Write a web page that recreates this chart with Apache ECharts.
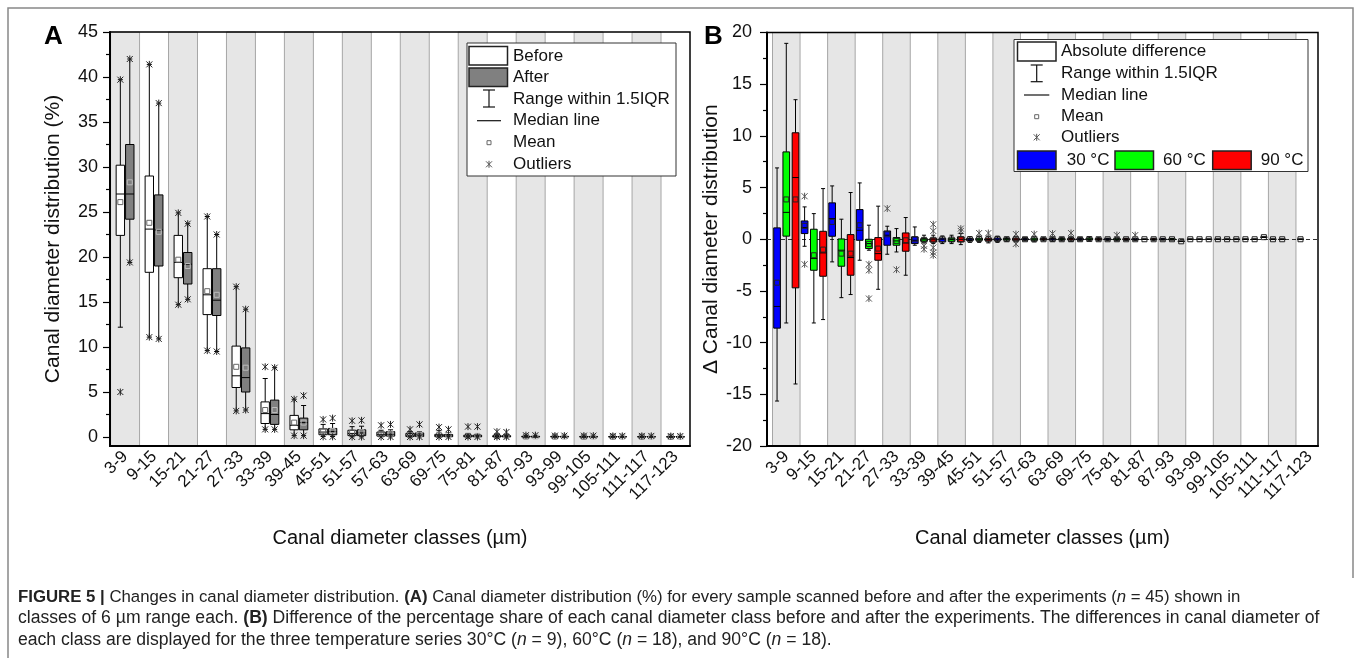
<!DOCTYPE html>
<html lang="en">
<head>
<meta charset="UTF-8">
<title>Figure 5</title>
<style>
    html, body { margin: 0; padding: 0; background: #fff; }
    #main { width: 1355px; height: 658px; }
</style>
</head>
<body>
<div id="main"></div>
<script src="https://cdn.jsdelivr.net/npm/echarts@6.0.0/dist/echarts.min.js"></script>
<script>
// canal diameter classes (µm)
var classes = ['3-9', '9-15', '15-21', '21-27', '27-33', '33-39', '39-45', '45-51', '51-57', '57-63',
    '63-69', '69-75', '75-81', '81-87', '87-93', '93-99', '99-105', '105-111', '111-117', '117-123'];
var classIdx = [0, 1, 2, 3, 4, 5, 6, 7, 8, 9, 10, 11, 12, 13, 14, 15, 16, 17, 18, 19];

var yTicksA = [0, 5, 10, 15, 20, 25, 30, 35, 40, 45];
var yMinorA = [2.5, 7.5, 12.5, 17.5, 22.5, 27.5, 32.5, 37.5, 42.5];

// panel A, one row per class: [lower whisker, Q1, median, Q3, upper whisker, mean]
var beforeA = [
    [12.2, 22.4, 27.0, 30.2, 39.7, 26.1],
    [11.1, 18.3, 23.1, 29.0, 41.4, 23.8],
    [14.7, 17.7, 19.4, 22.4, 24.9, 19.7],
    [9.6, 13.6, 15.8, 18.7, 24.5, 16.2],
    [2.9, 5.5, 6.8, 10.1, 16.7, 7.8],
    [0.85, 1.5, 2.6, 3.9, 6.5, 3.0],
    [0.15, 0.8, 1.3, 2.4, 4.2, 1.6],
    [0.05, 0.25, 0.55, 0.9, 1.4, 0.62],
    [0.02, 0.15, 0.4, 0.75, 1.15, 0.5],
    [0.02, 0.1, 0.3, 0.55, 0.75, 0.35],
    [0, 0.05, 0.2, 0.4, 0.6, 0.25],
    [0, 0.03, 0.15, 0.3, 0.7, 0.2],
    [0, 0.02, 0.1, 0.2, 0.35, 0.13],
    [0, 0.01, 0.06, 0.15, 0.25, 0.1],
    [0, 0.01, 0.03, 0.08, 0.15, 0.06],
    [0, 0.01, 0.03, 0.07, 0.12, 0.05],
    [0, 0, 0.02, 0.06, 0.12, 0.04],
    [0, 0, 0.02, 0.05, 0.1, 0.04],
    [0, 0, 0.02, 0.05, 0.1, 0.04],
    [0, 0, 0.01, 0.04, 0.08, 0.03]
];
var afterA = [
    [19.4, 24.2, 27.0, 32.5, 42.0, 28.3],
    [10.9, 19.0, 23.0, 26.9, 37.1, 22.8],
    [15.3, 17.0, 19.2, 20.5, 23.7, 19.0],
    [9.5, 13.5, 15.2, 18.7, 22.5, 15.8],
    [3.0, 5.0, 6.6, 9.9, 14.2, 7.7],
    [0.85, 1.4, 2.5, 4.1, 7.7, 3.0],
    [0.15, 0.8, 1.6, 2.1, 3.5, 1.6],
    [0.05, 0.25, 0.6, 0.95, 1.5, 0.68],
    [0.02, 0.15, 0.45, 0.8, 1.2, 0.52],
    [0.02, 0.1, 0.3, 0.6, 0.8, 0.38],
    [0, 0.05, 0.2, 0.45, 0.6, 0.27],
    [0, 0.03, 0.12, 0.28, 0.5, 0.18],
    [0, 0.02, 0.1, 0.2, 0.35, 0.13],
    [0, 0.01, 0.06, 0.15, 0.25, 0.1],
    [0, 0.01, 0.03, 0.08, 0.15, 0.06],
    [0, 0.01, 0.03, 0.07, 0.12, 0.05],
    [0, 0, 0.02, 0.06, 0.12, 0.04],
    [0, 0, 0.02, 0.05, 0.1, 0.04],
    [0, 0, 0.02, 0.05, 0.1, 0.04],
    [0, 0, 0.01, 0.04, 0.08, 0.03]
];
// outliers: [class index, value]
var beforeOutA = [[0, 39.7], [0, 5.0], [1, 41.4], [1, 11.1], [2, 24.9], [2, 14.7], [3, 24.5], [3, 9.6],
    [4, 16.7], [4, 2.9], [5, 7.8], [5, 0.85], [6, 4.2], [6, 0.15], [7, 1.95], [7, 0.02], [8, 1.8], [8, 0],
    [9, 1.3], [9, 0], [10, 0.85], [10, 0], [11, 1.1], [11, 0], [12, 1.15], [12, 0], [13, 0.6], [13, 0],
    [14, 0.2], [15, 0.15], [16, 0.15], [17, 0.12], [18, 0.12], [19, 0.1]];
var afterOutA = [[0, 42.0], [0, 19.4], [1, 37.1], [1, 10.9], [2, 23.7], [2, 15.3], [3, 22.5], [3, 9.5],
    [4, 14.2], [4, 3.0], [5, 7.7], [5, 0.85], [6, 4.6], [6, 0.15], [7, 2.1], [7, 0.02], [8, 1.85], [8, 0],
    [9, 1.4], [9, 0], [10, 1.4], [10, 0], [11, 0.85], [11, 0], [12, 1.15], [12, 0], [13, 0.55], [13, 0],
    [14, 0.2], [15, 0.15], [16, 0.15], [17, 0.12], [18, 0.12], [19, 0.1]];

// panel B, difference after - before per class: [lower whisker, Q1, median, Q3, upper whisker, mean]
var diff30 = [
    [-15.65, -8.6, -6.5, 1.1, 6.9, -4.2],
    [-0.68, 0.55, 1.13, 1.77, 3.13, 1.3],
    [-2.19, 0.29, 2.0, 3.52, 5.16, 1.68],
    [-2.03, -0.1, 0.87, 2.87, 5.45, 1.35],
    [-1.45, -0.58, 0.39, 0.8, 1.26, 0.48],
    [-0.58, -0.42, -0.1, 0.23, 1.19, 0.0],
    [-0.42, -0.26, 0, 0.1, 0.32, 0.0],
    [-0.3, -0.12, 0, 0.08, 0.25, 0],
    [-0.3, -0.1, 0, 0.12, 0.3, 0.02],
    [-0.15, -0.06, 0, 0.06, 0.15, 0],
    [-0.2, -0.08, 0, 0.08, 0.2, 0],
    [-0.15, -0.06, 0, 0.06, 0.15, 0],
    [-0.1, -0.05, 0, 0.05, 0.1, 0],
    [-0.1, -0.05, 0, 0.05, 0.1, 0],
    [-0.08, -0.04, 0, 0.04, 0.08, 0],
    [0, 0, 0, 0, 0, 0],
    [0, 0, 0, 0, 0, 0],
    [0, 0, 0, 0, 0, 0],
    [0, 0, 0, 0, 0, 0],
    [0, 0, 0, 0, 0, 0]
];
var diff60 = [
    [-8.1, 0.3, 2.6, 8.45, 18.95, 3.85],
    [-8.1, -3.0, -1.87, 0.97, 2.48, -1.55],
    [-5.65, -2.61, -1.06, 0.03, 1.94, -1.39],
    [-1.06, -0.9, -0.42, 0.0, 1.36, -0.45],
    [-1.23, -0.58, -0.16, 0.16, 1.03, -0.16],
    [-0.36, -0.2, -0.06, 0.06, 0.39, -0.06],
    [-0.42, -0.2, -0.03, 0.1, 0.39, -0.03],
    [-0.3, -0.1, 0, 0.1, 0.3, 0.02],
    [-0.2, -0.08, 0, 0.08, 0.2, 0],
    [-0.25, -0.1, 0, 0.1, 0.25, 0],
    [-0.15, -0.06, 0, 0.06, 0.15, 0],
    [-0.1, -0.05, 0, 0.1, 0.2, 0.02],
    [-0.15, -0.06, 0, 0.06, 0.15, 0],
    [0, 0, 0, 0, 0, 0],
    [-0.08, -0.04, 0, 0.04, 0.08, 0],
    [0, 0, 0, 0, 0, 0],
    [0, 0, 0, 0, 0, 0],
    [0, 0, 0, 0, 0, 0],
    [0, 0, 0, 0, 0, 0],
    null
];
var diff90 = [
    [-14.0, -4.7, 5.97, 10.3, 13.5, 3.85],
    [-7.77, -3.58, -1.32, 0.77, 4.9, -1.0],
    [-5.35, -3.48, -1.77, 0.45, 4.52, -1.39],
    [-4.84, -2.03, -1.39, 0.16, 3.2, -0.9],
    [-3.48, -1.16, -0.36, 0.61, 2.1, -0.1],
    [-0.42, -0.26, -0.05, 0.1, 0.39, -0.05],
    [-0.52, -0.26, 0, 0.23, 0.55, 0.0],
    [-0.35, -0.15, -0.02, 0.1, 0.3, 0],
    [-0.25, -0.1, 0, 0.1, 0.25, 0],
    [-0.15, -0.06, 0, 0.06, 0.15, 0],
    [-0.2, -0.08, 0, 0.08, 0.2, 0],
    [-0.15, -0.06, 0, 0.06, 0.15, 0],
    [-0.1, -0.05, 0, 0.05, 0.1, 0],
    [-0.1, -0.04, 0, 0.04, 0.1, 0],
    [-0.2, -0.2, -0.2, -0.2, -0.2, -0.2],
    [0, 0, 0, 0, 0, 0],
    [0, 0, 0, 0, 0, 0],
    [0.2, 0.2, 0.2, 0.2, 0.2, 0.2],
    null,
    null
];
var out30 = [[1, 4.16], [1, -2.42], [4, 2.97], [10, 0.55], [13, 0.4]];
var out60 = [[3, -2.42], [3, -3.0], [3, -5.74], [4, -2.94], [5, -0.64], [5, -0.97], [7, 0.6], [9, 0.5], [12, 0.4]];
var out90 = [[5, 1.45], [5, 0.8], [5, -0.81], [5, -1.29], [5, -1.55], [6, 1.03], [6, 0.8], [7, 0.6],
    [8, 0.5], [8, -0.45], [10, 0.6]];

var FONT = 'Liberation Sans, Arial, sans-serif';

function toItems(stats) {
    var items = [];
    for (var i = 0; i < stats.length; i++) {
        if (stats[i]) items.push([i].concat(stats[i]));
    }
    return items;
}

// box + whiskers + median + mean, placed at a fraction of the class width
function boxRenderer(offset, widthFrac, fill, meanColor) {
    return function (params, api) {
        var i = api.value(0);
        var band = api.size([1, 0])[0];
        var cx = api.coord([i, 0])[0] + offset * band;
        var w = widthFrac * band;
        var cap = w * 0.6;
        var yOf = function (k) { return api.coord([i, api.value(k)])[1]; };
        var lo = yOf(1), q1 = yOf(2), md = yOf(3), q3 = yOf(4), hi = yOf(5), mn = yOf(6);
        var ls = { stroke: '#000', lineWidth: 1 };
        return {
            type: 'group',
            children: [
                { type: 'line', shape: { x1: cx, y1: hi, x2: cx, y2: q3 }, style: ls },
                { type: 'line', shape: { x1: cx, y1: q1, x2: cx, y2: lo }, style: ls },
                { type: 'line', shape: { x1: cx - cap / 2, y1: hi, x2: cx + cap / 2, y2: hi }, style: ls },
                { type: 'line', shape: { x1: cx - cap / 2, y1: lo, x2: cx + cap / 2, y2: lo }, style: ls },
                { type: 'rect', shape: { x: cx - w / 2, y: q3, width: w, height: q1 - q3 },
                    style: { fill: fill, stroke: '#000', lineWidth: 1 } },
                { type: 'line', shape: { x1: cx - w / 2, y1: md, x2: cx + w / 2, y2: md }, style: ls },
                { type: 'rect', shape: { x: cx - 2.5, y: mn - 2.5, width: 5, height: 5 },
                    style: { fill: null, stroke: meanColor, lineWidth: 1 } }
            ]
        };
    };
}

function starShape(cx, cy, r, color) {
    var s = { stroke: color, lineWidth: 1 };
    return [
        { type: 'line', shape: { x1: cx - r, y1: cy - r, x2: cx + r, y2: cy + r }, style: s },
        { type: 'line', shape: { x1: cx - r, y1: cy + r, x2: cx + r, y2: cy - r }, style: s },
        { type: 'line', shape: { x1: cx, y1: cy - r - 0.5, x2: cx, y2: cy + r + 0.5 }, style: s }
    ];
}

function outlierRenderer(offset, color) {
    return function (params, api) {
        var i = api.value(0);
        var band = api.size([1, 0])[0];
        var p = api.coord([i, api.value(1)]);
        return { type: 'group', children: starShape(p[0] + offset * band, p[1], 3, color) };
    };
}

function bands(n) {
    var areas = [];
    for (var i = 0; i < n; i += 2) {
        areas.push([{ xAxis: i - 0.5 }, { xAxis: i + 0.5 }]);
    }
    return areas;
}

function boxSeries(name, grid, stats, offset, widthFrac, fill, meanColor) {
    return {
        name: name, type: 'custom', xAxisIndex: grid, yAxisIndex: grid === 0 ? 0 : 2,
        z: 5, clip: false, silent: true,
        renderItem: boxRenderer(offset, widthFrac, fill, meanColor),
        encode: { x: 0, y: [1, 2, 3, 4, 5] },
        data: toItems(stats)
    };
}

function outSeries(name, grid, pts, offset, color) {
    return {
        name: name, type: 'custom', xAxisIndex: grid, yAxisIndex: grid === 0 ? 0 : 2,
        z: 6, clip: false, silent: true,
        renderItem: outlierRenderer(offset, color),
        encode: { x: 0, y: 1 },
        data: pts
    };
}

var tickLabel = { fontFamily: FONT, fontSize: 18, color: '#111' };
var nameStyle = { fontFamily: FONT, fontSize: 21, color: '#111' };

function xAxisFor(grid, min, max) {
    return {
        type: 'value', gridIndex: grid, min: min, max: max, z: 4,
        name: 'Canal diameter classes (µm)', nameLocation: 'middle', nameGap: 82,
        nameTextStyle: { fontFamily: FONT, fontSize: 20, color: '#111' },
        axisLine: { show: true, onZero: false, lineStyle: { color: '#000', width: 2 } },
        axisTick: { show: false },
        splitLine: { show: false },
        axisLabel: {
            customValues: classIdx, rotate: 45, margin: 8,
            fontFamily: FONT, fontSize: 17, color: '#111',
            formatter: function (v) { return classes[Math.round(v)]; }
        }
    };
}

// legend drawing helpers
function legendText(x, y, txt) {
    return { type: 'text', x: x, y: y, z: 20,
        style: { text: txt, fontFamily: FONT, fontSize: 17, fill: '#111', verticalAlign: 'middle' } };
}
function legendRect(x, y, w, h, fill) {
    return { type: 'rect', z: 20, shape: { x: x, y: y, width: w, height: h },
        style: { fill: fill, stroke: '#222', lineWidth: 1.5 } };
}
function legendLine(x1, y1, x2, y2) {
    return { type: 'line', z: 20, shape: { x1: x1, y1: y1, x2: x2, y2: y2 },
        style: { stroke: '#111', lineWidth: 1.2 } };
}
function legendIbeam(cx, y1, y2) {
    return [legendLine(cx, y1, cx, y2), legendLine(cx - 6, y1, cx + 6, y1), legendLine(cx - 6, y2, cx + 6, y2)];
}
function legendMean(cx, cy) {
    return { type: 'rect', z: 20, shape: { x: cx - 2, y: cy - 2, width: 4, height: 4 },
        style: { fill: null, stroke: '#666', lineWidth: 1 } };
}
function legendStar(cx, cy) {
    return starShape(cx, cy, 3, '#555').map(function (e) { e.z = 20; return e; });
}

var graphics = [
    // page frame
    { type: 'polyline', shape: { points: [[8, 658], [8, 8], [1353, 8], [1353, 578]] },
        style: { stroke: '#888', lineWidth: 1.5, fill: null } },
    { type: 'text', x: 44, y: 37, style: { text: 'A', fontFamily: FONT, fontSize: 26, fontWeight: 'bold',
        fill: '#000', verticalAlign: 'middle' } },
    { type: 'text', x: 704, y: 37, style: { text: 'B', fontFamily: FONT, fontSize: 26, fontWeight: 'bold',
        fill: '#000', verticalAlign: 'middle' } },

    // legend A
    { type: 'rect', z: 19, shape: { x: 467, y: 43, width: 209, height: 133 },
        style: { fill: '#fff', stroke: '#333', lineWidth: 1 } },
    legendRect(469, 46.5, 38.5, 18.5, '#fff'), legendText(513, 56, 'Before'),
    legendRect(469, 68, 38.5, 18.5, '#808080'), legendText(513, 77.5, 'After')
].concat(legendIbeam(489, 90, 107)).concat([
    legendText(513, 99, 'Range within 1.5IQR'),
    legendLine(477, 120.7, 501, 120.7), legendText(513, 120.7, 'Median line'),
    legendMean(489, 142.7), legendText(513, 142, 'Mean')
]).concat(legendStar(489, 164.3)).concat([
    legendText(513, 164.3, 'Outliers'),

    // legend B
    { type: 'rect', z: 19, shape: { x: 1014, y: 39.5, width: 294, height: 132 },
        style: { fill: '#fff', stroke: '#333', lineWidth: 1 } },
    legendRect(1017.5, 42, 38.5, 19, '#fff'), legendText(1061, 51.7, 'Absolute difference')
]).concat(legendIbeam(1036.7, 65, 81.7)).concat([
    legendText(1061, 73.3, 'Range within 1.5IQR'),
    legendLine(1024, 95, 1049.3, 95), legendText(1061, 95, 'Median line'),
    legendMean(1036.7, 116.7), legendText(1061, 116.7, 'Mean')
]).concat(legendStar(1036.7, 137.3)).concat([
    legendText(1061, 137.3, 'Outliers'),
    legendRect(1017.5, 151, 38.5, 18.5, '#0000ff'), legendText(1066.7, 160, '30 °C'),
    legendRect(1115, 151, 38.5, 18.5, '#00ff00'), legendText(1163, 160, '60 °C'),
    legendRect(1212.7, 151, 38.5, 18.5, '#ff0000'), legendText(1260.7, 160, '90 °C')
]);

// caption
var capLines = [
    '{b|FIGURE 5 |} Changes in canal diameter distribution. {b|(A)} Canal diameter distribution (%) for every sample scanned before and after the experiments ({i|n} = 45) shown in',
    'classes of 6 µm range each. {b|(B)} Difference of the percentage share of each canal diameter class before and after the experiments. The differences in canal diameter of',
    'each class are displayed for the three temperature series 30°C ({i|n} = 9), 60°C ({i|n} = 18), and 90°C ({i|n} = 18).'
];
var capY = [597, 618.5, 640];
var capSize = [16.8, 17.6, 17.6];
for (var c = 0; c < capLines.length; c++) {
    graphics.push({ type: 'text', x: 18, y: capY[c],
        style: {
            text: capLines[c], fontFamily: FONT, fontSize: capSize[c], fill: '#222', verticalAlign: 'middle',
            rich: {
                b: { fontFamily: FONT, fontSize: capSize[c], fontWeight: 'bold', fill: '#222' },
                i: { fontFamily: FONT, fontSize: capSize[c], fontStyle: 'italic', fill: '#222' }
            }
        } });
}

var myChart = echarts.init(document.getElementById('main'));
var option = {
    animation: false,
    backgroundColor: '#fff',
    grid: [
        { left: 110, top: 32, width: 580, height: 414, show: true, z: 3,
            borderColor: '#000', borderWidth: 1.5, backgroundColor: 'transparent' },
        { left: 767, top: 32.5, width: 551, height: 413.5, show: true, z: 3,
            borderColor: '#000', borderWidth: 1.5, backgroundColor: 'transparent' }
    ],
    xAxis: [xAxisFor(0, -0.52, 19.5), xAxisFor(1, -0.7, 19.3)],
    yAxis: [
        {
            type: 'value', gridIndex: 0, position: 'left', min: -1, max: 45, z: 4,
            name: 'Canal diameter distribution (%)', nameLocation: 'middle', nameGap: 46,
            nameTextStyle: nameStyle,
            axisLine: { show: true, onZero: false, lineStyle: { color: '#000', width: 2 } },
            axisTick: { show: true, length: 7, customValues: yTicksA, lineStyle: { color: '#000', width: 1.2 } },
            axisLabel: Object.assign({ margin: 12, customValues: yTicksA }, tickLabel),
            splitLine: { show: false }
        },
        {
            type: 'value', gridIndex: 0, position: 'left', min: -1, max: 45, z: 4,
            axisLine: { show: false, onZero: false },
            axisTick: { show: true, length: 4, customValues: yMinorA, lineStyle: { color: '#000', width: 1.2 } },
            axisLabel: { show: false },
            splitLine: { show: false }
        },
        {
            type: 'value', gridIndex: 1, position: 'left', min: -20, max: 20, interval: 5, z: 4,
            name: 'Δ Canal diameter distribution', nameLocation: 'middle', nameGap: 43,
            nameTextStyle: nameStyle,
            axisLine: { show: true, onZero: false, lineStyle: { color: '#000', width: 2 } },
            axisTick: { show: true, length: 7, lineStyle: { color: '#000', width: 1.2 } },
            minorTick: { show: true, splitNumber: 2, length: 4, lineStyle: { color: '#000', width: 1.2 } },
            axisLabel: Object.assign({ margin: 15 }, tickLabel),
            splitLine: { show: false }
        }
    ],
    graphic: graphics,
    series: [
        { type: 'line', xAxisIndex: 0, yAxisIndex: 0, data: [], z: 1, silent: true,
            markArea: { silent: true, itemStyle: { color: '#e6e6e6', borderColor: '#a6a6a6', borderWidth: 1 },
                data: bands(20) } },
        { type: 'line', xAxisIndex: 1, yAxisIndex: 2, data: [], z: 1, silent: true,
            markArea: { silent: true, itemStyle: { color: '#e6e6e6', borderColor: '#a6a6a6', borderWidth: 1 },
                data: bands(20) } },
        { type: 'line', xAxisIndex: 1, yAxisIndex: 2, data: [], z: 2, silent: true,
            markLine: { silent: true, symbol: 'none', label: { show: false },
                lineStyle: { color: '#333', width: 1, type: [4, 3] },
                data: [{ yAxis: 0 }] } },
        boxSeries('Before', 0, beforeA, -0.163, 0.29, '#ffffff', '#666'),
        boxSeries('After', 0, afterA, 0.163, 0.29, '#808080', '#bbb'),
        outSeries('Before outliers', 0, beforeOutA, -0.163, '#222'),
        outSeries('After outliers', 0, afterOutA, 0.163, '#222'),
        boxSeries('30 °C', 1, diff30, -0.335, 0.243, '#0000ff', '#222'),
        boxSeries('60 °C', 1, diff60, 0, 0.243, '#00ff00', '#222'),
        boxSeries('90 °C', 1, diff90, 0.335, 0.243, '#ff0000', '#222'),
        outSeries('30 °C outliers', 1, out30, -0.335, '#555'),
        outSeries('60 °C outliers', 1, out60, 0, '#555'),
        outSeries('90 °C outliers', 1, out90, 0.335, '#555')
    ]
};
myChart.setOption(option);
</script>
</body>
</html>
